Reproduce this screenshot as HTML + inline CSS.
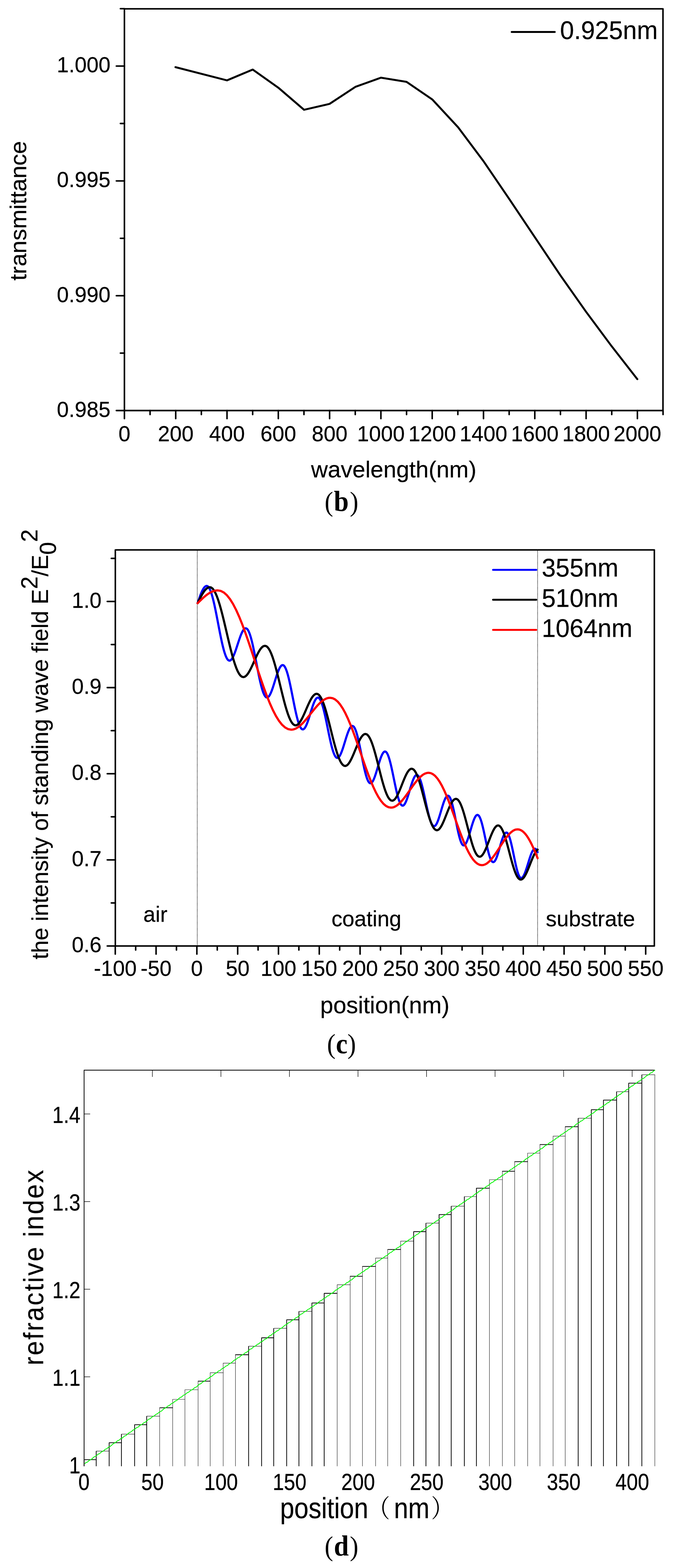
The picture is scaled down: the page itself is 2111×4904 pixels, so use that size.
<!DOCTYPE html>
<html lang="en">
<head>
<meta charset="utf-8">
<title>Figure: transmittance, standing wave field and refractive index</title>
<style>
html,body{margin:0;padding:0;background:#fff;}
body{width:2111px;height:4904px;}
svg{display:block;}
svg text{font-family:"Liberation Sans","Noto Sans CJK SC",sans-serif;fill:#000;stroke:#000;stroke-width:0.35px;stroke-linejoin:round;}
svg text.cap{font-family:"Liberation Serif","Noto Serif CJK SC",serif;font-weight:bold;stroke:none;}
svg text.cap .par{font-weight:normal;}
svg text.bd{stroke:#000;stroke-width:0.5px;stroke-linejoin:round;}
svg .cjk{font-family:"Noto Serif CJK SC","Noto Sans CJK SC",serif;stroke:none;}
</style>
</head>
<body>
<svg width="2111" height="4904" viewBox="0 0 2111 4904">
<rect width="2111" height="4904" fill="#fff"/>
<g id="chart-b">
<rect x="389.1" y="27.6" width="1684.3" height="1256.4" fill="none" stroke="#000" stroke-width="4.8" stroke-linejoin="round"/>
<line x1="389.1" y1="1284" x2="389.1" y2="1309.3" stroke="#000" stroke-width="4.8" stroke-linecap="round" />
<line x1="469.32" y1="1284" x2="469.32" y2="1296.6" stroke="#000" stroke-width="4.8" stroke-linecap="round" />
<line x1="549.53" y1="1284" x2="549.53" y2="1309.3" stroke="#000" stroke-width="4.8" stroke-linecap="round" />
<line x1="629.75" y1="1284" x2="629.75" y2="1296.6" stroke="#000" stroke-width="4.8" stroke-linecap="round" />
<line x1="709.96" y1="1284" x2="709.96" y2="1309.3" stroke="#000" stroke-width="4.8" stroke-linecap="round" />
<line x1="790.17" y1="1284" x2="790.17" y2="1296.6" stroke="#000" stroke-width="4.8" stroke-linecap="round" />
<line x1="870.39" y1="1284" x2="870.39" y2="1309.3" stroke="#000" stroke-width="4.8" stroke-linecap="round" />
<line x1="950.61" y1="1284" x2="950.61" y2="1296.6" stroke="#000" stroke-width="4.8" stroke-linecap="round" />
<line x1="1030.82" y1="1284" x2="1030.82" y2="1309.3" stroke="#000" stroke-width="4.8" stroke-linecap="round" />
<line x1="1111.04" y1="1284" x2="1111.04" y2="1296.6" stroke="#000" stroke-width="4.8" stroke-linecap="round" />
<line x1="1191.25" y1="1284" x2="1191.25" y2="1309.3" stroke="#000" stroke-width="4.8" stroke-linecap="round" />
<line x1="1271.47" y1="1284" x2="1271.47" y2="1296.6" stroke="#000" stroke-width="4.8" stroke-linecap="round" />
<line x1="1351.68" y1="1284" x2="1351.68" y2="1309.3" stroke="#000" stroke-width="4.8" stroke-linecap="round" />
<line x1="1431.89" y1="1284" x2="1431.89" y2="1296.6" stroke="#000" stroke-width="4.8" stroke-linecap="round" />
<line x1="1512.11" y1="1284" x2="1512.11" y2="1309.3" stroke="#000" stroke-width="4.8" stroke-linecap="round" />
<line x1="1592.33" y1="1284" x2="1592.33" y2="1296.6" stroke="#000" stroke-width="4.8" stroke-linecap="round" />
<line x1="1672.54" y1="1284" x2="1672.54" y2="1309.3" stroke="#000" stroke-width="4.8" stroke-linecap="round" />
<line x1="1752.76" y1="1284" x2="1752.76" y2="1296.6" stroke="#000" stroke-width="4.8" stroke-linecap="round" />
<line x1="1832.97" y1="1284" x2="1832.97" y2="1309.3" stroke="#000" stroke-width="4.8" stroke-linecap="round" />
<line x1="1913.18" y1="1284" x2="1913.18" y2="1296.6" stroke="#000" stroke-width="4.8" stroke-linecap="round" />
<line x1="1993.4" y1="1284" x2="1993.4" y2="1309.3" stroke="#000" stroke-width="4.8" stroke-linecap="round" />
<line x1="2073.62" y1="1284" x2="2073.62" y2="1296.6" stroke="#000" stroke-width="4.8" stroke-linecap="round" />
<line x1="389.1" y1="1284" x2="363.8" y2="1284" stroke="#000" stroke-width="4.8" stroke-linecap="round" />
<line x1="389.1" y1="1104.45" x2="376.5" y2="1104.45" stroke="#000" stroke-width="4.8" stroke-linecap="round" />
<line x1="389.1" y1="924.9" x2="363.8" y2="924.9" stroke="#000" stroke-width="4.8" stroke-linecap="round" />
<line x1="389.1" y1="745.35" x2="376.5" y2="745.35" stroke="#000" stroke-width="4.8" stroke-linecap="round" />
<line x1="389.1" y1="565.8" x2="363.8" y2="565.8" stroke="#000" stroke-width="4.8" stroke-linecap="round" />
<line x1="389.1" y1="386.25" x2="376.5" y2="386.25" stroke="#000" stroke-width="4.8" stroke-linecap="round" />
<line x1="389.1" y1="206.7" x2="363.8" y2="206.7" stroke="#000" stroke-width="4.8" stroke-linecap="round" />
<line x1="389.1" y1="27.15" x2="376.5" y2="27.15" stroke="#000" stroke-width="4.8" stroke-linecap="round" />
<text x="0" y="0" font-size="67" text-anchor="middle" transform="translate(389.1 1379.5) scale(1 1.015)" >0</text>
<text x="0" y="0" font-size="67" text-anchor="middle" transform="translate(549.53 1379.5) scale(1 1.015)" >200</text>
<text x="0" y="0" font-size="67" text-anchor="middle" transform="translate(709.96 1379.5) scale(1 1.015)" >400</text>
<text x="0" y="0" font-size="67" text-anchor="middle" transform="translate(870.39 1379.5) scale(1 1.015)" >600</text>
<text x="0" y="0" font-size="67" text-anchor="middle" transform="translate(1030.82 1379.5) scale(1 1.015)" >800</text>
<text x="0" y="0" font-size="67" text-anchor="middle" transform="translate(1191.25 1379.5) scale(1 1.015)" >1000</text>
<text x="0" y="0" font-size="67" text-anchor="middle" transform="translate(1351.68 1379.5) scale(1 1.015)" >1200</text>
<text x="0" y="0" font-size="67" text-anchor="middle" transform="translate(1512.11 1379.5) scale(1 1.015)" >1400</text>
<text x="0" y="0" font-size="67" text-anchor="middle" transform="translate(1672.54 1379.5) scale(1 1.015)" >1600</text>
<text x="0" y="0" font-size="67" text-anchor="middle" transform="translate(1832.97 1379.5) scale(1 1.015)" >1800</text>
<text x="0" y="0" font-size="67" text-anchor="middle" transform="translate(1993.4 1379.5) scale(1 1.015)" >2000</text>
<text x="0" y="0" font-size="67" text-anchor="end" transform="translate(345.5 1303.6) scale(1 1.015)" >0.985</text>
<text x="0" y="0" font-size="67" text-anchor="end" transform="translate(345.5 944.5) scale(1 1.015)" >0.990</text>
<text x="0" y="0" font-size="67" text-anchor="end" transform="translate(345.5 585.4) scale(1 1.015)" >0.995</text>
<text x="0" y="0" font-size="67" text-anchor="end" transform="translate(345.5 226.3) scale(1 1.015)" >1.000</text>
<text x="1231.3" y="1492.8" font-size="72.7" text-anchor="middle" >wavelength(nm)</text>
<text x="0" y="0" font-size="72.7" text-anchor="middle" transform="translate(82.3 659.3) rotate(-90)" >transmittance</text>
<line x1="1600.3" y1="99.9" x2="1734.9" y2="99.9" stroke="#000" stroke-width="6" stroke-linecap="round" />
<text x="0" y="0" font-size="78.5" text-anchor="start" transform="translate(1751.6 121.7) scale(1 1.01)" >0.925nm</text>
<path d="M548.7 210 L709.9 251.4 L790.3 217.6 L870.6 274.4 L950.9 343.4 L1030.7 324.9 L1111.4 271.7 L1191.6 242.9 L1271.4 256 L1351.8 310.9 L1432.7 398.1 L1512.1 504.1 L1592.2 621.7 L1672.4 741.5 L1752.6 861.2 L1832.4 974.5 L1912.8 1082.7 L1993.2 1185.8" fill="none" stroke="#000" stroke-width="6.1" stroke-linejoin="round" stroke-linecap="round"/>
<text transform="translate(1000 1597.8) scale(0.93 1)" font-size="86.4" class="cap"><tspan class="par" x="16.44">(</tspan><tspan x="47.27" font-size="90">b</tspan><tspan class="par" x="100.96">)</tspan></text>
</g>
<g id="chart-c">
<line x1="616.9" y1="1719.9" x2="616.9" y2="2958.7" stroke="#000" stroke-width="2.1" stroke-dasharray="0.5 3.45" stroke-linecap="round"/>
<line x1="1681.3" y1="1719.9" x2="1681.3" y2="2958.7" stroke="#000" stroke-width="2.1" stroke-dasharray="0.5 3.45" stroke-linecap="round"/>
<path d="M618 1886.6 L620.38 1879.54 L622.75 1872.6 L625.12 1865.9 L627.5 1859.55 L629.88 1853.67 L632.25 1848.35 L634.62 1843.68 L637 1839.75 L639.38 1836.62 L641.75 1834.34 L644.12 1832.96 L646.5 1832.5 L649.46 1833.45 L652.42 1836.32 L655.39 1841.09 L658.35 1847.71 L661.31 1856.09 L664.27 1866.11 L667.24 1877.59 L670.2 1890.35 L673.16 1904.16 L676.12 1918.78 L679.09 1933.95 L682.05 1949.4 L685.01 1964.85 L687.97 1980.02 L690.94 1994.64 L693.9 2008.45 L696.86 2021.21 L699.82 2032.69 L702.79 2042.71 L705.75 2051.09 L708.71 2057.71 L711.67 2062.48 L714.64 2065.35 L717.6 2066.3 L719.73 2065.85 L721.85 2064.5 L723.98 2062.31 L726.1 2059.33 L728.23 2055.6 L730.35 2051.2 L732.48 2046.21 L734.6 2040.72 L736.73 2034.82 L738.85 2028.61 L740.98 2022.18 L743.1 2015.65 L745.23 2009.12 L747.35 2002.69 L749.48 1996.48 L751.6 1990.58 L753.73 1985.09 L755.85 1980.1 L757.98 1975.7 L760.1 1971.97 L762.23 1968.99 L764.35 1966.8 L766.48 1965.45 L768.6 1965 L771.37 1965.88 L774.13 1968.54 L776.9 1972.95 L779.67 1979.09 L782.43 1986.85 L785.2 1996.13 L787.97 2006.76 L790.73 2018.58 L793.5 2031.38 L796.27 2044.93 L799.03 2058.99 L801.8 2073.3 L804.57 2087.61 L807.33 2101.67 L810.1 2115.22 L812.87 2128.02 L815.63 2139.84 L818.4 2150.47 L821.17 2159.75 L823.93 2167.51 L826.7 2173.65 L829.47 2178.06 L832.23 2180.72 L835 2181.6 L837.04 2181.15 L839.08 2179.8 L841.12 2177.61 L843.17 2174.61 L845.21 2170.87 L847.25 2166.46 L849.29 2161.46 L851.33 2155.96 L853.38 2150.04 L855.42 2143.8 L857.46 2137.35 L859.5 2130.8 L861.54 2124.25 L863.58 2117.8 L865.62 2111.56 L867.67 2105.64 L869.71 2100.14 L871.75 2095.14 L873.79 2090.73 L875.83 2086.99 L877.88 2083.99 L879.92 2081.8 L881.96 2080.45 L884 2080 L886.62 2080.82 L889.24 2083.28 L891.86 2087.39 L894.48 2093.08 L897.1 2100.3 L899.73 2108.91 L902.35 2118.8 L904.97 2129.79 L907.59 2141.68 L910.21 2154.27 L912.83 2167.34 L915.45 2180.65 L918.07 2193.96 L920.69 2207.03 L923.31 2219.62 L925.93 2231.51 L928.55 2242.5 L931.18 2252.39 L933.8 2261 L936.42 2268.22 L939.04 2273.91 L941.66 2278.02 L944.28 2280.48 L946.9 2281.3 L948.87 2280.85 L950.84 2279.54 L952.81 2277.39 L954.78 2274.46 L956.75 2270.8 L958.72 2266.48 L960.7 2261.58 L962.67 2256.19 L964.64 2250.39 L966.61 2244.28 L968.58 2237.97 L970.55 2231.55 L972.52 2225.13 L974.49 2218.82 L976.46 2212.71 L978.43 2206.91 L980.4 2201.52 L982.38 2196.62 L984.35 2192.3 L986.32 2188.64 L988.29 2185.71 L990.26 2183.56 L992.23 2182.25 L994.2 2181.8 L996.73 2182.56 L999.26 2184.87 L1001.79 2188.71 L1004.32 2194.04 L1006.85 2200.8 L1009.38 2208.87 L1011.9 2218.13 L1014.43 2228.43 L1016.96 2239.57 L1019.49 2251.38 L1022.02 2263.63 L1024.55 2276.1 L1027.08 2288.57 L1029.61 2300.82 L1032.14 2312.63 L1034.67 2323.77 L1037.2 2334.07 L1039.73 2343.33 L1042.25 2351.4 L1044.78 2358.16 L1047.31 2363.49 L1049.84 2367.33 L1052.37 2369.64 L1054.9 2370.4 L1056.87 2369.95 L1058.84 2368.63 L1060.81 2366.47 L1062.78 2363.52 L1064.75 2359.85 L1066.73 2355.51 L1068.7 2350.58 L1070.67 2345.16 L1072.64 2339.34 L1074.61 2333.2 L1076.58 2326.85 L1078.55 2320.4 L1080.52 2313.95 L1082.49 2307.6 L1084.46 2301.46 L1086.43 2295.64 L1088.4 2290.22 L1090.38 2285.29 L1092.35 2280.95 L1094.32 2277.28 L1096.29 2274.33 L1098.26 2272.17 L1100.23 2270.85 L1102.2 2270.4 L1104.55 2271.13 L1106.89 2273.32 L1109.24 2276.98 L1111.58 2282.06 L1113.93 2288.48 L1116.27 2296.17 L1118.62 2304.98 L1120.97 2314.77 L1123.31 2325.37 L1125.66 2336.59 L1128 2348.24 L1130.35 2360.1 L1132.7 2371.96 L1135.04 2383.61 L1137.39 2394.83 L1139.73 2405.43 L1142.08 2415.22 L1144.42 2424.03 L1146.77 2431.72 L1149.12 2438.14 L1151.46 2443.22 L1153.81 2446.88 L1156.15 2449.07 L1158.5 2449.8 L1160.4 2449.36 L1162.3 2448.04 L1164.2 2445.9 L1166.1 2442.97 L1168 2439.31 L1169.9 2435 L1171.8 2430.11 L1173.7 2424.72 L1175.6 2418.93 L1177.5 2412.82 L1179.4 2406.51 L1181.3 2400.1 L1183.2 2393.69 L1185.1 2387.38 L1187 2381.27 L1188.9 2375.48 L1190.8 2370.09 L1192.7 2365.2 L1194.6 2360.89 L1196.5 2357.23 L1198.4 2354.3 L1200.3 2352.16 L1202.2 2350.84 L1204.1 2350.4 L1206.4 2351.09 L1208.69 2353.16 L1210.99 2356.6 L1213.28 2361.39 L1215.58 2367.46 L1217.88 2374.71 L1220.17 2383.03 L1222.47 2392.27 L1224.76 2402.29 L1227.06 2412.89 L1229.35 2423.89 L1231.65 2435.1 L1233.95 2446.31 L1236.24 2457.31 L1238.54 2467.91 L1240.83 2477.93 L1243.13 2487.17 L1245.43 2495.49 L1247.72 2502.74 L1250.02 2508.81 L1252.31 2513.6 L1254.61 2517.04 L1256.9 2519.11 L1259.2 2519.8 L1261.04 2519.37 L1262.88 2518.1 L1264.73 2516.03 L1266.57 2513.19 L1268.41 2509.66 L1270.25 2505.49 L1272.09 2500.76 L1273.93 2495.55 L1275.78 2489.95 L1277.62 2484.05 L1279.46 2477.95 L1281.3 2471.75 L1283.14 2465.55 L1284.98 2459.45 L1286.83 2453.55 L1288.67 2447.95 L1290.51 2442.74 L1292.35 2438.01 L1294.19 2433.84 L1296.03 2430.31 L1297.88 2427.47 L1299.72 2425.4 L1301.56 2424.13 L1303.4 2423.7 L1305.66 2424.35 L1307.93 2426.3 L1310.19 2429.55 L1312.45 2434.08 L1314.71 2439.81 L1316.98 2446.66 L1319.24 2454.53 L1321.5 2463.27 L1323.76 2472.75 L1326.03 2482.78 L1328.29 2493.19 L1330.55 2503.8 L1332.81 2514.41 L1335.08 2524.82 L1337.34 2534.85 L1339.6 2544.33 L1341.86 2553.07 L1344.13 2560.94 L1346.39 2567.79 L1348.65 2573.52 L1350.91 2578.05 L1353.18 2581.3 L1355.44 2583.25 L1357.7 2583.9 L1359.5 2583.47 L1361.31 2582.22 L1363.11 2580.16 L1364.92 2577.35 L1366.72 2573.85 L1368.52 2569.71 L1370.33 2565.02 L1372.13 2559.86 L1373.94 2554.3 L1375.74 2548.45 L1377.55 2542.4 L1379.35 2536.25 L1381.15 2530.1 L1382.96 2524.05 L1384.76 2518.2 L1386.57 2512.64 L1388.37 2507.48 L1390.17 2502.79 L1391.98 2498.65 L1393.78 2495.15 L1395.59 2492.34 L1397.39 2490.28 L1399.2 2489.03 L1401 2488.6 L1403.05 2489.23 L1405.09 2491.13 L1407.14 2494.3 L1409.18 2498.7 L1411.23 2504.27 L1413.28 2510.93 L1415.32 2518.57 L1417.37 2527.05 L1419.41 2536.24 L1421.46 2545.97 L1423.5 2556.07 L1425.55 2566.35 L1427.6 2576.63 L1429.64 2586.73 L1431.69 2596.46 L1433.73 2605.65 L1435.78 2614.13 L1437.82 2621.77 L1439.87 2628.43 L1441.92 2634 L1443.96 2638.4 L1446.01 2641.57 L1448.05 2643.47 L1450.1 2644.1 L1451.9 2643.67 L1453.69 2642.41 L1455.49 2640.35 L1457.28 2637.54 L1459.08 2634.03 L1460.88 2629.89 L1462.67 2625.18 L1464.47 2620.01 L1466.26 2614.44 L1468.06 2608.58 L1469.85 2602.51 L1471.65 2596.35 L1473.45 2590.19 L1475.24 2584.12 L1477.04 2578.26 L1478.83 2572.69 L1480.63 2567.52 L1482.43 2562.81 L1484.22 2558.67 L1486.02 2555.16 L1487.81 2552.35 L1489.61 2550.29 L1491.4 2549.03 L1493.2 2548.6 L1495.25 2549.2 L1497.31 2551 L1499.36 2554 L1501.42 2558.18 L1503.47 2563.47 L1505.52 2569.79 L1507.58 2577.05 L1509.63 2585.12 L1511.69 2593.86 L1513.74 2603.11 L1515.8 2612.72 L1517.85 2622.5 L1519.9 2632.28 L1521.96 2641.89 L1524.01 2651.14 L1526.07 2659.88 L1528.12 2667.95 L1530.17 2675.21 L1532.23 2681.53 L1534.28 2686.82 L1536.34 2691 L1538.39 2694 L1540.45 2695.8 L1542.5 2696.4 L1544.21 2695.99 L1545.92 2694.76 L1547.64 2692.77 L1549.35 2690.04 L1551.06 2686.64 L1552.78 2682.62 L1554.49 2678.06 L1556.2 2673.04 L1557.91 2667.64 L1559.62 2661.96 L1561.34 2656.08 L1563.05 2650.1 L1564.76 2644.12 L1566.47 2638.24 L1568.19 2632.56 L1569.9 2627.16 L1571.61 2622.14 L1573.32 2617.58 L1575.04 2613.56 L1576.75 2610.16 L1578.46 2607.43 L1580.17 2605.44 L1581.89 2604.21 L1583.6 2603.8 L1585.53 2604.38 L1587.46 2606.11 L1589.39 2609.01 L1591.32 2613.03 L1593.25 2618.13 L1595.17 2624.22 L1597.1 2631.21 L1599.03 2638.97 L1600.96 2647.39 L1602.89 2656.29 L1604.82 2665.54 L1606.75 2674.95 L1608.68 2684.36 L1610.61 2693.61 L1612.54 2702.51 L1614.47 2710.93 L1616.4 2718.69 L1618.33 2725.68 L1620.25 2731.77 L1622.18 2736.87 L1624.11 2740.89 L1626.04 2743.79 L1627.97 2745.52 L1629.9 2746.1 L1631.7 2745.69 L1633.51 2744.48 L1635.31 2742.5 L1637.12 2739.8 L1638.92 2736.43 L1640.73 2732.46 L1642.53 2727.95 L1644.33 2722.98 L1646.14 2717.65 L1647.94 2712.02 L1649.75 2706.21 L1651.55 2700.3 L1653.35 2694.39 L1655.16 2688.58 L1656.96 2682.95 L1658.77 2677.62 L1660.57 2672.65 L1662.38 2668.14 L1664.18 2664.17 L1665.98 2660.8 L1667.79 2658.1 L1669.59 2656.12 L1671.4 2654.91 L1673.2 2654.5 L1674.29 2654.7 L1675.39 2655.29 L1676.48 2656.29 L1677.58 2657.68 L1678.67 2659.46 L1679.77 2661.64 L1680.87 2664.18 L1681.3 2665.34" fill="none" stroke="#0000ff" stroke-width="6.8" stroke-linejoin="round" stroke-linecap="round"/>
<path d="M618 1886.6 L621.19 1880.06 L624.38 1873.63 L627.58 1867.43 L630.77 1861.55 L633.96 1856.1 L637.15 1851.17 L640.34 1846.85 L643.53 1843.21 L646.72 1840.31 L649.92 1838.21 L653.11 1836.93 L656.3 1836.5 L660.66 1837.63 L665.02 1841.03 L669.37 1846.72 L673.73 1854.63 L678.09 1864.67 L682.45 1876.69 L686.81 1890.49 L691.17 1905.85 L695.52 1922.5 L699.88 1940.14 L704.24 1958.45 L708.6 1977.1 L712.96 1995.75 L717.32 2014.06 L721.67 2031.7 L726.03 2048.35 L730.39 2063.71 L734.75 2077.51 L739.11 2089.53 L743.47 2099.57 L747.82 2107.48 L752.18 2113.17 L756.54 2116.57 L760.9 2117.7 L763.72 2117.26 L766.53 2115.95 L769.35 2113.82 L772.17 2110.91 L774.98 2107.3 L777.8 2103.04 L780.62 2098.22 L783.43 2092.92 L786.25 2087.23 L789.07 2081.24 L791.88 2075.04 L794.7 2068.75 L797.52 2062.46 L800.33 2056.26 L803.15 2050.27 L805.97 2044.58 L808.78 2039.28 L811.6 2034.46 L814.42 2030.2 L817.23 2026.59 L820.05 2023.68 L822.87 2021.55 L825.68 2020.24 L828.5 2019.8 L832.5 2020.79 L836.49 2023.8 L840.49 2028.82 L844.48 2035.81 L848.48 2044.69 L852.48 2055.31 L856.47 2067.53 L860.47 2081.12 L864.46 2095.86 L868.46 2111.47 L872.45 2127.68 L876.45 2144.2 L880.45 2160.72 L884.44 2176.93 L888.44 2192.54 L892.43 2207.28 L896.43 2220.87 L900.43 2233.09 L904.42 2243.71 L908.42 2252.59 L912.41 2259.58 L916.41 2264.6 L920.4 2267.61 L924.4 2268.6 L927.14 2268.15 L929.88 2266.84 L932.62 2264.69 L935.37 2261.76 L938.11 2258.12 L940.85 2253.83 L943.59 2248.97 L946.33 2243.63 L949.07 2237.89 L951.82 2231.84 L954.56 2225.6 L957.3 2219.25 L960.04 2212.9 L962.78 2206.66 L965.52 2200.61 L968.27 2194.87 L971.01 2189.53 L973.75 2184.67 L976.49 2180.38 L979.23 2176.74 L981.98 2173.81 L984.72 2171.66 L987.46 2170.35 L990.2 2169.9 L993.91 2170.8 L997.62 2173.52 L1001.34 2178.07 L1005.05 2184.4 L1008.76 2192.45 L1012.48 2202.09 L1016.19 2213.17 L1019.9 2225.5 L1023.61 2238.87 L1027.33 2253.04 L1031.04 2267.76 L1034.75 2282.75 L1038.46 2297.74 L1042.17 2312.46 L1045.89 2326.63 L1049.6 2340 L1053.31 2352.33 L1057.03 2363.41 L1060.74 2373.05 L1064.45 2381.1 L1068.16 2387.43 L1071.88 2391.98 L1075.59 2394.7 L1079.3 2395.6 L1081.95 2395.15 L1084.59 2393.81 L1087.24 2391.64 L1089.88 2388.67 L1092.53 2384.98 L1095.17 2380.63 L1097.82 2375.71 L1100.47 2370.28 L1103.11 2364.46 L1105.76 2358.33 L1108.4 2351.99 L1111.05 2345.55 L1113.7 2339.11 L1116.34 2332.77 L1118.99 2326.64 L1121.63 2320.82 L1124.28 2315.39 L1126.92 2310.47 L1129.57 2306.12 L1132.22 2302.43 L1134.86 2299.46 L1137.51 2297.29 L1140.15 2295.95 L1142.8 2295.5 L1146.29 2296.33 L1149.78 2298.85 L1153.26 2303.05 L1156.75 2308.91 L1160.24 2316.35 L1163.73 2325.26 L1167.21 2335.51 L1170.7 2346.92 L1174.19 2359.29 L1177.68 2372.41 L1181.16 2386.03 L1184.65 2399.9 L1188.14 2413.77 L1191.62 2427.39 L1195.11 2440.51 L1198.6 2452.88 L1202.09 2464.29 L1205.58 2474.54 L1209.06 2483.45 L1212.55 2490.89 L1216.04 2496.75 L1219.53 2500.95 L1223.01 2503.47 L1226.5 2504.3 L1229.04 2503.85 L1231.58 2502.52 L1234.11 2500.34 L1236.65 2497.38 L1239.19 2493.69 L1241.72 2489.34 L1244.26 2484.41 L1246.8 2478.99 L1249.34 2473.17 L1251.88 2467.03 L1254.41 2460.69 L1256.95 2454.25 L1259.49 2447.81 L1262.03 2441.47 L1264.56 2435.33 L1267.1 2429.51 L1269.64 2424.09 L1272.18 2419.16 L1274.71 2414.81 L1277.25 2411.12 L1279.79 2408.16 L1282.33 2405.98 L1284.86 2404.65 L1287.4 2404.2 L1290.69 2404.96 L1293.97 2407.28 L1297.26 2411.14 L1300.55 2416.54 L1303.84 2423.39 L1307.12 2431.6 L1310.41 2441.04 L1313.7 2451.56 L1316.99 2462.96 L1320.27 2475.05 L1323.56 2487.61 L1326.85 2500.4 L1330.14 2513.19 L1333.42 2525.75 L1336.71 2537.84 L1340 2549.24 L1343.29 2559.76 L1346.57 2569.2 L1349.86 2577.41 L1353.15 2584.26 L1356.44 2589.66 L1359.72 2593.52 L1363.01 2595.84 L1366.3 2596.6 L1368.78 2596.16 L1371.26 2594.85 L1373.74 2592.72 L1376.22 2589.81 L1378.7 2586.19 L1381.17 2581.93 L1383.65 2577.09 L1386.13 2571.77 L1388.61 2566.06 L1391.09 2560.04 L1393.57 2553.82 L1396.05 2547.5 L1398.53 2541.18 L1401.01 2534.96 L1403.49 2528.94 L1405.97 2523.23 L1408.45 2517.91 L1410.92 2513.07 L1413.4 2508.81 L1415.88 2505.19 L1418.36 2502.28 L1420.84 2500.15 L1423.32 2498.84 L1425.8 2498.4 L1428.9 2499.12 L1431.99 2501.3 L1435.09 2504.94 L1438.18 2510.01 L1441.28 2516.46 L1444.37 2524.19 L1447.47 2533.08 L1450.57 2542.98 L1453.66 2553.71 L1456.76 2565.09 L1459.85 2576.91 L1462.95 2588.95 L1466.05 2600.99 L1469.14 2612.81 L1472.24 2624.19 L1475.33 2634.92 L1478.43 2644.82 L1481.52 2653.71 L1484.62 2661.44 L1487.72 2667.89 L1490.81 2672.96 L1493.91 2676.6 L1497 2678.78 L1500.1 2679.5 L1502.5 2679.06 L1504.9 2677.76 L1507.3 2675.63 L1509.7 2672.74 L1512.1 2669.13 L1514.5 2664.88 L1516.9 2660.06 L1519.3 2654.75 L1521.7 2649.06 L1524.1 2643.06 L1526.5 2636.85 L1528.9 2630.55 L1531.3 2624.25 L1533.7 2618.04 L1536.1 2612.04 L1538.5 2606.35 L1540.9 2601.04 L1543.3 2596.22 L1545.7 2591.97 L1548.1 2588.36 L1550.5 2585.47 L1552.9 2583.34 L1555.3 2582.04 L1557.7 2581.6 L1560.65 2582.27 L1563.6 2584.3 L1566.55 2587.7 L1569.5 2592.45 L1572.45 2598.48 L1575.4 2605.71 L1578.35 2614.02 L1581.3 2623.28 L1584.25 2633.32 L1587.2 2643.97 L1590.15 2655.03 L1593.1 2666.3 L1596.05 2677.57 L1599 2688.63 L1601.95 2699.28 L1604.9 2709.32 L1607.85 2718.58 L1610.8 2726.89 L1613.75 2734.12 L1616.7 2740.15 L1619.65 2744.9 L1622.6 2748.3 L1625.55 2750.33 L1628.5 2751 L1629.96 2750.84 L1631.42 2750.38 L1632.89 2749.61 L1634.35 2748.55 L1635.81 2747.2 L1637.28 2745.59 L1638.74 2743.71 L1640.2 2741.59 L1641.66 2739.23 L1643.12 2736.65 L1644.59 2733.88 L1646.05 2730.92 L1647.51 2727.8 L1648.97 2724.53 L1650.44 2721.14 L1651.9 2717.64 L1653.36 2714.06 L1654.83 2710.41 L1656.29 2706.71 L1657.75 2703 L1659.21 2699.29 L1660.67 2695.59 L1662.14 2691.94 L1663.6 2688.36 L1665.06 2684.86 L1666.53 2681.47 L1667.99 2678.2 L1669.45 2675.08 L1670.91 2672.12 L1672.38 2669.35 L1673.84 2666.77 L1675.3 2664.41 L1676.76 2662.29 L1678.22 2660.41 L1679.69 2658.8 L1681.15 2657.45 L1681.3 2657.34" fill="none" stroke="#000000" stroke-width="6.8" stroke-linejoin="round" stroke-linecap="round"/>
<path d="M618 1886.6 L623.26 1881.37 L628.52 1876.22 L633.77 1871.25 L639.03 1866.55 L644.29 1862.19 L649.55 1858.25 L654.81 1854.79 L660.07 1851.87 L665.33 1849.55 L670.58 1847.87 L675.84 1846.84 L681.1 1846.5 L690.68 1848.17 L700.25 1853.26 L709.83 1861.84 L719.4 1873.87 L728.98 1889.23 L738.55 1907.74 L748.12 1929.1 L757.7 1952.96 L767.27 1978.9 L776.85 2006.45 L786.42 2035.1 L796 2064.3 L805.58 2093.5 L815.15 2122.15 L824.73 2149.7 L834.3 2175.64 L843.88 2199.5 L853.45 2220.86 L863.02 2239.37 L872.6 2254.73 L882.17 2266.76 L891.75 2275.34 L901.32 2280.43 L910.9 2282.1 L915.96 2281.64 L921.02 2280.28 L926.07 2278.08 L931.13 2275.09 L936.19 2271.38 L941.25 2267.03 L946.31 2262.11 L951.37 2256.72 L956.42 2250.93 L961.48 2244.85 L966.54 2238.58 L971.6 2232.2 L976.66 2225.82 L981.72 2219.55 L986.77 2213.47 L991.83 2207.68 L996.89 2202.29 L1001.95 2197.37 L1007.01 2193.02 L1012.07 2189.31 L1017.12 2186.32 L1022.18 2184.12 L1027.24 2182.76 L1032.3 2182.3 L1040.25 2183.6 L1048.19 2187.59 L1056.14 2194.31 L1064.08 2203.77 L1072.03 2215.86 L1079.98 2230.44 L1087.92 2247.28 L1095.87 2266.11 L1103.81 2286.6 L1111.76 2308.37 L1119.7 2331.01 L1127.65 2354.1 L1135.6 2377.19 L1143.54 2399.83 L1151.49 2421.6 L1159.43 2442.09 L1167.38 2460.92 L1175.33 2477.76 L1183.27 2492.34 L1191.22 2504.43 L1199.16 2513.89 L1207.11 2520.61 L1215.05 2524.6 L1223 2525.9 L1227.88 2525.4 L1232.77 2523.92 L1237.65 2521.52 L1242.53 2518.26 L1247.42 2514.22 L1252.3 2509.47 L1257.18 2504.1 L1262.07 2498.21 L1266.95 2491.89 L1271.83 2485.24 L1276.72 2478.37 L1281.6 2471.4 L1286.48 2464.43 L1291.37 2457.56 L1296.25 2450.91 L1301.13 2444.59 L1306.02 2438.7 L1310.9 2433.33 L1315.78 2428.58 L1320.67 2424.54 L1325.55 2421.28 L1330.43 2418.88 L1335.32 2417.4 L1340.2 2416.9 L1347.16 2417.99 L1354.12 2421.32 L1361.08 2426.94 L1368.03 2434.87 L1374.99 2445.01 L1381.95 2457.26 L1388.91 2471.42 L1395.87 2487.27 L1402.83 2504.52 L1409.78 2522.86 L1416.74 2541.94 L1423.7 2561.4 L1430.66 2580.86 L1437.62 2599.94 L1444.58 2618.28 L1451.53 2635.53 L1458.49 2651.38 L1465.45 2665.54 L1472.41 2677.79 L1479.37 2687.93 L1486.33 2695.86 L1493.28 2701.48 L1500.24 2704.81 L1507.2 2705.9 L1511.83 2705.38 L1516.47 2703.87 L1521.1 2701.41 L1525.73 2698.06 L1530.37 2693.91 L1535 2689.03 L1539.63 2683.5 L1544.27 2677.44 L1548.9 2670.94 L1553.53 2664.1 L1558.17 2657.03 L1562.8 2649.85 L1567.43 2642.67 L1572.07 2635.6 L1576.7 2628.76 L1581.33 2622.26 L1585.97 2616.2 L1590.6 2610.67 L1595.23 2605.79 L1599.87 2601.64 L1604.5 2598.29 L1609.13 2595.83 L1613.77 2594.32 L1618.4 2593.8 L1622.14 2594.12 L1625.88 2595.1 L1629.62 2596.75 L1633.36 2599.09 L1637.1 2602.12 L1640.84 2605.85 L1644.58 2610.26 L1648.32 2615.35 L1652.06 2621.08 L1655.8 2627.43 L1659.54 2634.36 L1663.28 2641.84 L1667.02 2649.82 L1670.76 2658.25 L1674.5 2667.07 L1678.24 2676.23 L1681.3 2683.94" fill="none" stroke="#ff0000" stroke-width="6.8" stroke-linejoin="round" stroke-linecap="round"/>
<rect x="360.7" y="1719.9" width="1685.7" height="1238.8" fill="none" stroke="#000" stroke-width="4.8" stroke-linejoin="round"/>
<line x1="360.5" y1="2958.7" x2="360.5" y2="2984" stroke="#000" stroke-width="4.8" stroke-linecap="round" />
<line x1="424.3" y1="2958.7" x2="424.3" y2="2971.3" stroke="#000" stroke-width="4.8" stroke-linecap="round" />
<line x1="488.1" y1="2958.7" x2="488.1" y2="2984" stroke="#000" stroke-width="4.8" stroke-linecap="round" />
<line x1="551.9" y1="2958.7" x2="551.9" y2="2971.3" stroke="#000" stroke-width="4.8" stroke-linecap="round" />
<line x1="615.7" y1="2958.7" x2="615.7" y2="2984" stroke="#000" stroke-width="4.8" stroke-linecap="round" />
<line x1="679.5" y1="2958.7" x2="679.5" y2="2971.3" stroke="#000" stroke-width="4.8" stroke-linecap="round" />
<line x1="743.3" y1="2958.7" x2="743.3" y2="2984" stroke="#000" stroke-width="4.8" stroke-linecap="round" />
<line x1="807.1" y1="2958.7" x2="807.1" y2="2971.3" stroke="#000" stroke-width="4.8" stroke-linecap="round" />
<line x1="870.9" y1="2958.7" x2="870.9" y2="2984" stroke="#000" stroke-width="4.8" stroke-linecap="round" />
<line x1="934.7" y1="2958.7" x2="934.7" y2="2971.3" stroke="#000" stroke-width="4.8" stroke-linecap="round" />
<line x1="998.5" y1="2958.7" x2="998.5" y2="2984" stroke="#000" stroke-width="4.8" stroke-linecap="round" />
<line x1="1062.3" y1="2958.7" x2="1062.3" y2="2971.3" stroke="#000" stroke-width="4.8" stroke-linecap="round" />
<line x1="1126.1" y1="2958.7" x2="1126.1" y2="2984" stroke="#000" stroke-width="4.8" stroke-linecap="round" />
<line x1="1189.9" y1="2958.7" x2="1189.9" y2="2971.3" stroke="#000" stroke-width="4.8" stroke-linecap="round" />
<line x1="1253.7" y1="2958.7" x2="1253.7" y2="2984" stroke="#000" stroke-width="4.8" stroke-linecap="round" />
<line x1="1317.5" y1="2958.7" x2="1317.5" y2="2971.3" stroke="#000" stroke-width="4.8" stroke-linecap="round" />
<line x1="1381.3" y1="2958.7" x2="1381.3" y2="2984" stroke="#000" stroke-width="4.8" stroke-linecap="round" />
<line x1="1445.1" y1="2958.7" x2="1445.1" y2="2971.3" stroke="#000" stroke-width="4.8" stroke-linecap="round" />
<line x1="1508.9" y1="2958.7" x2="1508.9" y2="2984" stroke="#000" stroke-width="4.8" stroke-linecap="round" />
<line x1="1572.7" y1="2958.7" x2="1572.7" y2="2971.3" stroke="#000" stroke-width="4.8" stroke-linecap="round" />
<line x1="1636.5" y1="2958.7" x2="1636.5" y2="2984" stroke="#000" stroke-width="4.8" stroke-linecap="round" />
<line x1="1700.3" y1="2958.7" x2="1700.3" y2="2971.3" stroke="#000" stroke-width="4.8" stroke-linecap="round" />
<line x1="1764.1" y1="2958.7" x2="1764.1" y2="2984" stroke="#000" stroke-width="4.8" stroke-linecap="round" />
<line x1="1827.9" y1="2958.7" x2="1827.9" y2="2971.3" stroke="#000" stroke-width="4.8" stroke-linecap="round" />
<line x1="1891.7" y1="2958.7" x2="1891.7" y2="2984" stroke="#000" stroke-width="4.8" stroke-linecap="round" />
<line x1="1955.5" y1="2958.7" x2="1955.5" y2="2971.3" stroke="#000" stroke-width="4.8" stroke-linecap="round" />
<line x1="2019.3" y1="2958.7" x2="2019.3" y2="2984" stroke="#000" stroke-width="4.8" stroke-linecap="round" />
<line x1="360.7" y1="2958.7" x2="335.4" y2="2958.7" stroke="#000" stroke-width="4.8" stroke-linecap="round" />
<line x1="360.7" y1="2824" x2="348.1" y2="2824" stroke="#000" stroke-width="4.8" stroke-linecap="round" />
<line x1="360.7" y1="2689.3" x2="335.4" y2="2689.3" stroke="#000" stroke-width="4.8" stroke-linecap="round" />
<line x1="360.7" y1="2554.6" x2="348.1" y2="2554.6" stroke="#000" stroke-width="4.8" stroke-linecap="round" />
<line x1="360.7" y1="2419.9" x2="335.4" y2="2419.9" stroke="#000" stroke-width="4.8" stroke-linecap="round" />
<line x1="360.7" y1="2285.2" x2="348.1" y2="2285.2" stroke="#000" stroke-width="4.8" stroke-linecap="round" />
<line x1="360.7" y1="2150.5" x2="335.4" y2="2150.5" stroke="#000" stroke-width="4.8" stroke-linecap="round" />
<line x1="360.7" y1="2015.8" x2="348.1" y2="2015.8" stroke="#000" stroke-width="4.8" stroke-linecap="round" />
<line x1="360.7" y1="1881.1" x2="335.4" y2="1881.1" stroke="#000" stroke-width="4.8" stroke-linecap="round" />
<line x1="360.7" y1="1746.4" x2="348.1" y2="1746.4" stroke="#000" stroke-width="4.8" stroke-linecap="round" />
<text x="0" y="0" font-size="67" text-anchor="middle" transform="translate(360.5 3052.2) scale(1 1.015)" >-100</text>
<text x="0" y="0" font-size="67" text-anchor="middle" transform="translate(488.1 3052.2) scale(1 1.015)" >-50</text>
<text x="0" y="0" font-size="67" text-anchor="middle" transform="translate(615.7 3052.2) scale(1 1.015)" >0</text>
<text x="0" y="0" font-size="67" text-anchor="middle" transform="translate(743.3 3052.2) scale(1 1.015)" >50</text>
<text x="0" y="0" font-size="67" text-anchor="middle" transform="translate(870.9 3052.2) scale(1 1.015)" >100</text>
<text x="0" y="0" font-size="67" text-anchor="middle" transform="translate(998.5 3052.2) scale(1 1.015)" >150</text>
<text x="0" y="0" font-size="67" text-anchor="middle" transform="translate(1126.1 3052.2) scale(1 1.015)" >200</text>
<text x="0" y="0" font-size="67" text-anchor="middle" transform="translate(1253.7 3052.2) scale(1 1.015)" >250</text>
<text x="0" y="0" font-size="67" text-anchor="middle" transform="translate(1381.3 3052.2) scale(1 1.015)" >300</text>
<text x="0" y="0" font-size="67" text-anchor="middle" transform="translate(1508.9 3052.2) scale(1 1.015)" >350</text>
<text x="0" y="0" font-size="67" text-anchor="middle" transform="translate(1636.5 3052.2) scale(1 1.015)" >400</text>
<text x="0" y="0" font-size="67" text-anchor="middle" transform="translate(1764.1 3052.2) scale(1 1.015)" >450</text>
<text x="0" y="0" font-size="67" text-anchor="middle" transform="translate(1891.7 3052.2) scale(1 1.015)" >500</text>
<text x="0" y="0" font-size="67" text-anchor="middle" transform="translate(2019.3 3052.2) scale(1 1.015)" >550</text>
<text x="0" y="0" font-size="67" text-anchor="end" transform="translate(317.6 2978.1) scale(1 1.015)" >0.6</text>
<text x="0" y="0" font-size="67" text-anchor="end" transform="translate(317.6 2708.7) scale(1 1.015)" >0.7</text>
<text x="0" y="0" font-size="67" text-anchor="end" transform="translate(317.6 2439.3) scale(1 1.015)" >0.8</text>
<text x="0" y="0" font-size="67" text-anchor="end" transform="translate(317.6 2169.9) scale(1 1.015)" >0.9</text>
<text x="0" y="0" font-size="67" text-anchor="end" transform="translate(317.6 1900.5) scale(1 1.015)" >1.0</text>
<text x="486" y="2882.8" font-size="67.8" text-anchor="middle" >air</text>
<text x="1146" y="2897.4" font-size="67.8" text-anchor="middle" >coating</text>
<text x="1846.5" y="2897.4" font-size="67.8" text-anchor="middle" >substrate</text>
<line x1="1542" y1="1782.2" x2="1677" y2="1782.2" stroke="#0000ff" stroke-width="6" stroke-linecap="round" />
<text x="0" y="0" font-size="78.5" text-anchor="start" transform="translate(1694.2 1802.8) scale(1 1.01)" >355nm</text>
<line x1="1542" y1="1875.8" x2="1677" y2="1875.8" stroke="#000" stroke-width="6" stroke-linecap="round" />
<text x="0" y="0" font-size="78.5" text-anchor="start" transform="translate(1694.2 1897.5) scale(1 1.01)" >510nm</text>
<line x1="1542" y1="1970" x2="1677" y2="1970" stroke="#ff0000" stroke-width="6" stroke-linecap="round" />
<text x="0" y="0" font-size="78.5" text-anchor="start" transform="translate(1694.2 1992.2) scale(1 1.01)" >1064nm</text>
<text x="1203.5" y="3169.3" font-size="73.5" text-anchor="middle" >position(nm)</text>
<text x="0" y="0" font-size="71.6" text-anchor="start" transform="translate(149.9 3000.6) rotate(-90)" >the intensity of standing wave field E<tspan dy="-33.3">2</tspan><tspan dy="33.3">/E</tspan><tspan dy="24.9">0</tspan><tspan dy="-58.2">2</tspan></text>
<text transform="translate(1000 3293.9) scale(0.93 1)" font-size="86.4" class="cap"><tspan class="par" x="24.39">(</tspan><tspan x="54.24" font-size="88">c</tspan><tspan class="par" x="93.11">)</tspan></text>
</g>
<g id="chart-d">
<path d="M499.4 4585.8V4402.8M540 4585.8V4376.5M578.4 4585.8V4346.5M619.5 4585.8V4319.7M657.4 4585.8V4293.3M698 4585.8V4263.4M736.4 4585.8V4237M1054.5 4585.8V4018.2M1095.1 4585.8V3991.6M1133.5 4585.8V3960.9M1174.6 4585.8V3934.6M1212.5 4585.8V3907.9M1253.1 4585.8V3881.6M1530.6 4585.8V3689.5M1571.2 4585.8V3663.1M1609.6 4585.8V3633.2M1650.2 4585.8V3606.5M1688.6 4585.8V3579.7M1729.7 4585.8V3553.4M1767.6 4585.8V3523.8M2047.9 4585.8V3361.3" fill="none" stroke="#000" stroke-width="1.15"/>
<path d="M263 4585.8V4565.1M300.9 4585.8V4538.4M341.4 4585.8V4512.1M379.8 4585.8V4485.4M421 4585.8V4455.8M458.8 4585.8V4429.1M777.5 4585.8V4210.3M818.1 4585.8V4184M856 4585.8V4154.4M896.5 4585.8V4127.7M934.9 4585.8V4101.4M975.5 4585.8V4075.1M1013.9 4585.8V4045M1293.7 4585.8V3852M1332.1 4585.8V3825.3M1373.2 4585.8V3798.6M1411.1 4585.8V3772.4M1452.2 4585.8V3742.5M1490 4585.8V3716.1M1808.2 4585.8V3497.3M1849.3 4585.8V3470.6M1887.2 4585.8V3440.7M1928.3 4585.8V3414.3M1966.2 4585.8V3387.6M2007.3 4585.8V3361.3" fill="none" stroke="#000" stroke-width="2.3"/>
<path d="M262.4 4565.1H301.5M340.8 4512.1H380.4M420.4 4455.8H459.4M498.8 4402.8H540.6M618.9 4319.7H658M735.8 4237H778.1M817.5 4184H856.6M895.9 4127.7H935.5M974.9 4075.1H1014.5M1013.3 4045H1055.1M1094.5 3991.6H1134.1M1132.9 3960.9H1175.2M1211.9 3907.9H1253.7M1293.1 3852H1332.7M1372.6 3798.6H1411.7M1489.4 3716.1H1531.2M1570.6 3663.1H1610.2M1609 3633.2H1650.8M1688 3579.7H1730.3M1767 3523.8H1808.8M1848.7 3470.6H1887.8M1886.6 3440.7H1928.9M1965.6 3387.6H2007.9" fill="none" stroke="#000" stroke-width="2.3"/>
<path d="M300.3 4538.4H342M379.2 4485.4H421.6M458.2 4429.1H500M539.4 4376.5H579M577.8 4346.5H620.1M656.8 4293.3H698.6M697.4 4263.4H737M776.9 4210.3H818.7M855.4 4154.4H897.1M934.3 4101.4H976.1M1053.9 4018.2H1095.7M1174 3934.6H1213.1M1252.5 3881.6H1294.3M1331.5 3825.3H1373.8M1410.5 3772.4H1452.8M1451.6 3742.5H1490.6M1530 3689.5H1571.8M1649.6 3606.5H1689.2M1729.1 3553.4H1768.2M1807.6 3497.3H1849.9M1927.7 3414.3H1966.8M2006.7 3361.3H2048.5" fill="none" stroke="#000" stroke-width="1.2"/>
<line x1="262" y1="3347" x2="2047.9" y2="3347" stroke="#000" stroke-width="2.6" stroke-linecap="butt" />
<line x1="263" y1="3347" x2="263" y2="4585.8" stroke="#000" stroke-width="2.4" stroke-linecap="butt" />
<line x1="476.55" y1="3347" x2="476.55" y2="3368" stroke="#000" stroke-width="1.6" stroke-linecap="butt" />
<line x1="690.9" y1="3347" x2="690.9" y2="3368" stroke="#000" stroke-width="1.6" stroke-linecap="butt" />
<line x1="905.25" y1="3347" x2="905.25" y2="3368" stroke="#000" stroke-width="1.6" stroke-linecap="butt" />
<line x1="1119.6" y1="3347" x2="1119.6" y2="3368" stroke="#000" stroke-width="1.6" stroke-linecap="butt" />
<line x1="1333.95" y1="3347" x2="1333.95" y2="3368" stroke="#000" stroke-width="1.6" stroke-linecap="butt" />
<line x1="1548.3" y1="3347" x2="1548.3" y2="3368" stroke="#000" stroke-width="1.6" stroke-linecap="butt" />
<line x1="1762.65" y1="3347" x2="1762.65" y2="3368" stroke="#000" stroke-width="1.6" stroke-linecap="butt" />
<line x1="1977" y1="3347" x2="1977" y2="3368" stroke="#000" stroke-width="1.6" stroke-linecap="butt" />
<line x1="263" y1="3484" x2="282" y2="3484" stroke="#000" stroke-width="1.6" stroke-linecap="butt" />
<line x1="263" y1="3758.05" x2="282" y2="3758.05" stroke="#000" stroke-width="1.6" stroke-linecap="butt" />
<line x1="263" y1="4032.1" x2="282" y2="4032.1" stroke="#000" stroke-width="1.6" stroke-linecap="butt" />
<line x1="263" y1="4306.15" x2="282" y2="4306.15" stroke="#000" stroke-width="1.6" stroke-linecap="butt" />
<path d="M265.5 4577.3 L269.27 4573.99 L273.05 4572.95 L276.82 4569.65 L280.59 4566.34 L284.37 4565.3 L288.14 4562 L291.91 4558.69 L295.68 4555.39 L299.46 4554.35 L303.23 4551.04 L307 4547.74 L310.78 4546.69 L314.55 4543.39 L318.32 4540.08 L322.1 4539.04 L325.87 4535.74 L329.64 4532.43 L333.41 4531.39 L337.19 4528.09 L340.96 4524.78 L344.73 4523.74 L348.51 4520.43 L352.28 4517.13 L356.05 4513.82 L359.82 4512.78 L363.6 4509.48 L367.37 4506.17 L371.14 4505.13 L374.92 4501.83 L378.69 4498.52 L382.46 4497.48 L386.24 4494.17 L390.01 4490.87 L393.78 4489.83 L397.56 4486.52 L401.33 4483.22 L405.1 4479.91 L408.87 4478.87 L412.65 4475.57 L416.42 4472.26 L420.19 4471.22 L423.97 4467.92 L427.74 4464.61 L431.51 4463.57 L435.28 4460.26 L439.06 4456.96 L442.83 4455.92 L446.6 4452.61 L450.38 4449.31 L454.15 4448.27 L457.92 4444.96 L461.7 4441.66 L465.47 4438.35 L469.24 4437.31 L473.01 4434 L476.79 4430.7 L480.56 4429.66 L484.33 4426.35 L488.11 4423.05 L491.88 4422.01 L495.65 4418.7 L499.43 4415.4 L503.2 4414.35 L506.97 4411.05 L510.75 4407.74 L514.52 4404.44 L518.29 4403.4 L522.06 4400.09 L525.84 4396.79 L529.61 4395.75 L533.38 4392.44 L537.16 4389.14 L540.93 4388.1 L544.7 4384.79 L548.48 4381.48 L552.25 4380.44 L556.02 4377.14 L559.79 4373.83 L563.57 4370.53 L567.34 4369.49 L571.11 4366.18 L574.89 4362.88 L578.66 4361.84 L582.43 4358.53 L586.2 4355.23 L589.98 4354.18 L593.75 4350.88 L597.52 4347.57 L601.3 4346.53 L605.07 4343.23 L608.84 4339.92 L612.62 4338.88 L616.39 4335.58 L620.16 4332.27 L623.93 4328.97 L627.71 4327.92 L631.48 4324.62 L635.25 4321.31 L639.03 4320.27 L642.8 4316.97 L646.57 4313.66 L650.35 4312.62 L654.12 4309.32 L657.89 4306.01 L661.66 4304.97 L665.44 4301.66 L669.21 4298.36 L672.98 4295.05 L676.76 4294.01 L680.53 4290.71 L684.3 4287.4 L688.08 4286.36 L691.85 4283.06 L695.62 4279.75 L699.39 4278.71 L703.17 4275.41 L706.94 4272.1 L710.71 4271.06 L714.49 4267.75 L718.26 4264.45 L722.03 4263.41 L725.81 4260.1 L729.58 4256.8 L733.35 4253.49 L737.12 4252.45 L740.9 4249.15 L744.67 4245.84 L748.44 4244.8 L752.22 4241.49 L755.99 4238.19 L759.76 4237.15 L763.54 4233.84 L767.31 4230.54 L771.08 4229.5 L774.86 4226.19 L778.63 4222.89 L782.4 4219.58 L786.17 4218.54 L789.95 4215.23 L793.72 4211.93 L797.49 4210.89 L801.27 4207.58 L805.04 4204.28 L808.81 4203.24 L812.59 4199.93 L816.36 4196.63 L820.13 4195.59 L823.9 4192.28 L827.68 4188.97 L831.45 4187.93 L835.22 4184.63 L839 4181.32 L842.77 4178.02 L846.54 4176.98 L850.32 4173.67 L854.09 4170.37 L857.86 4169.33 L861.63 4166.02 L865.41 4162.72 L869.18 4161.67 L872.95 4158.37 L876.73 4155.06 L880.5 4154.02 L884.27 4150.72 L888.05 4147.41 L891.82 4144.11 L895.59 4143.07 L899.36 4139.76 L903.14 4136.46 L906.91 4135.41 L910.68 4132.11 L914.46 4128.8 L918.23 4127.76 L922 4124.46 L925.77 4121.15 L929.55 4120.11 L933.32 4116.81 L937.09 4113.5 L940.87 4110.2 L944.64 4109.15 L948.41 4105.85 L952.19 4102.54 L955.96 4101.5 L959.73 4098.2 L963.5 4094.89 L967.28 4093.85 L971.05 4090.55 L974.82 4087.24 L978.6 4086.2 L982.37 4082.9 L986.14 4079.59 L989.92 4078.55 L993.69 4075.24 L997.46 4071.94 L1001.24 4068.63 L1005.01 4067.59 L1008.78 4064.29 L1012.55 4060.98 L1016.33 4059.94 L1020.1 4056.64 L1023.87 4053.33 L1027.65 4052.29 L1031.42 4048.98 L1035.19 4045.68 L1038.97 4044.64 L1042.74 4041.33 L1046.51 4038.03 L1050.28 4034.72 L1054.06 4033.68 L1057.83 4030.38 L1061.6 4027.07 L1065.38 4026.03 L1069.15 4022.72 L1072.92 4019.42 L1076.7 4018.38 L1080.47 4015.07 L1084.24 4011.77 L1088.01 4010.73 L1091.79 4007.42 L1095.56 4004.12 L1099.33 4003.07 L1103.11 3999.77 L1106.88 3996.46 L1110.65 3993.16 L1114.43 3992.12 L1118.2 3988.81 L1121.97 3985.51 L1125.74 3984.47 L1129.52 3981.16 L1133.29 3977.86 L1137.06 3976.82 L1140.84 3973.51 L1144.61 3970.21 L1148.38 3969.16 L1152.16 3965.86 L1155.93 3962.55 L1159.7 3959.25 L1163.47 3958.21 L1167.25 3954.9 L1171.02 3951.6 L1174.79 3950.56 L1178.57 3947.25 L1182.34 3943.95 L1186.11 3942.9 L1189.88 3939.6 L1193.66 3936.29 L1197.43 3935.25 L1201.2 3931.95 L1204.98 3928.64 L1208.75 3927.6 L1212.52 3924.3 L1216.3 3920.99 L1220.07 3917.69 L1223.84 3916.64 L1227.62 3913.34 L1231.39 3910.03 L1235.16 3908.99 L1238.93 3905.69 L1242.71 3902.38 L1246.48 3901.34 L1250.25 3898.04 L1254.03 3894.73 L1257.8 3893.69 L1261.57 3890.39 L1265.35 3887.08 L1269.12 3883.77 L1272.89 3882.73 L1276.66 3879.43 L1280.44 3876.12 L1284.21 3875.08 L1287.98 3871.78 L1291.76 3868.47 L1295.53 3867.43 L1299.3 3864.13 L1303.08 3860.82 L1306.85 3859.78 L1310.62 3856.47 L1314.39 3853.17 L1318.17 3849.86 L1321.94 3848.82 L1325.71 3845.52 L1329.49 3842.21 L1333.26 3841.17 L1337.03 3837.87 L1340.81 3834.56 L1344.58 3833.52 L1348.35 3830.21 L1352.12 3826.91 L1355.9 3825.87 L1359.67 3822.56 L1363.44 3819.26 L1367.22 3818.22 L1370.99 3814.91 L1374.76 3811.61 L1378.54 3808.3 L1382.31 3807.26 L1386.08 3803.95 L1389.85 3800.65 L1393.63 3799.61 L1397.4 3796.3 L1401.17 3793 L1404.95 3791.96 L1408.72 3788.65 L1412.49 3785.35 L1416.27 3784.31 L1420.04 3781 L1423.81 3777.7 L1427.58 3774.39 L1431.36 3773.35 L1435.13 3770.04 L1438.9 3766.74 L1442.68 3765.7 L1446.45 3762.39 L1450.22 3759.09 L1454 3758.05 L1457.77 3754.74 L1461.54 3751.44 L1465.31 3750.39 L1469.09 3747.09 L1472.86 3743.78 L1476.63 3742.74 L1480.41 3739.44 L1484.18 3736.13 L1487.95 3732.83 L1491.73 3731.79 L1495.5 3728.48 L1499.27 3725.18 L1503.04 3724.13 L1506.82 3720.83 L1510.59 3717.52 L1514.36 3716.48 L1518.14 3713.18 L1521.91 3709.87 L1525.68 3708.83 L1529.46 3705.53 L1533.23 3702.22 L1537 3698.92 L1540.77 3697.88 L1544.55 3694.57 L1548.32 3691.26 L1552.09 3690.22 L1555.87 3686.92 L1559.64 3683.61 L1563.41 3682.57 L1567.18 3679.27 L1570.96 3675.96 L1574.73 3674.92 L1578.5 3671.62 L1582.28 3668.31 L1586.05 3667.27 L1589.82 3663.96 L1593.6 3660.66 L1597.37 3657.35 L1601.14 3656.31 L1604.91 3653.01 L1608.69 3649.7 L1612.46 3648.66 L1616.23 3645.36 L1620.01 3642.05 L1623.78 3641.01 L1627.55 3637.7 L1631.33 3634.4 L1635.1 3633.36 L1638.87 3630.05 L1642.64 3626.75 L1646.42 3623.44 L1650.19 3622.4 L1653.96 3619.1 L1657.74 3615.79 L1661.51 3614.75 L1665.28 3611.44 L1669.06 3608.14 L1672.83 3607.1 L1676.6 3603.79 L1680.38 3600.49 L1684.15 3599.45 L1687.92 3596.14 L1691.69 3592.84 L1695.47 3591.8 L1699.24 3588.49 L1703.01 3585.19 L1706.79 3581.88 L1710.56 3580.84 L1714.33 3577.53 L1718.11 3574.23 L1721.88 3573.19 L1725.65 3569.88 L1729.42 3566.58 L1733.2 3565.54 L1736.97 3562.23 L1740.74 3558.93 L1744.52 3557.88 L1748.29 3554.58 L1752.06 3551.27 L1755.84 3547.97 L1759.61 3546.93 L1763.38 3543.62 L1767.15 3540.32 L1770.93 3539.28 L1774.7 3535.97 L1778.47 3532.67 L1782.25 3531.62 L1786.02 3528.32 L1789.79 3525.01 L1793.57 3523.97 L1797.34 3520.67 L1801.11 3517.36 L1804.88 3514.06 L1808.66 3513.02 L1812.43 3509.71 L1816.2 3506.41 L1819.98 3505.36 L1823.75 3502.06 L1827.52 3498.75 L1831.3 3497.71 L1835.07 3494.41 L1838.84 3491.1 L1842.61 3490.06 L1846.39 3486.76 L1850.16 3483.45 L1853.93 3482.41 L1857.71 3479.11 L1861.48 3475.8 L1865.25 3472.5 L1869.03 3471.45 L1872.8 3468.15 L1876.57 3464.84 L1880.34 3463.8 L1884.12 3460.5 L1887.89 3457.19 L1891.66 3456.15 L1895.44 3452.85 L1899.21 3449.54 L1902.98 3448.5 L1906.76 3445.19 L1910.53 3441.89 L1914.3 3438.58 L1918.07 3437.54 L1921.85 3434.24 L1925.62 3430.93 L1929.39 3429.89 L1933.17 3426.59 L1936.94 3423.28 L1940.71 3422.24 L1944.49 3418.93 L1948.26 3415.63 L1952.03 3414.59 L1955.8 3411.28 L1959.58 3407.98 L1963.35 3406.94 L1967.12 3403.63 L1970.9 3400.33 L1974.67 3397.02 L1978.44 3395.98 L1982.22 3392.68 L1985.99 3389.37 L1989.76 3388.33 L1993.53 3385.02 L1997.31 3381.72 L2001.08 3380.68 L2004.85 3377.37 L2008.63 3374.07 L2012.4 3373.03 L2016.17 3369.72 L2019.95 3366.42 L2023.72 3363.11 L2027.49 3362.07 L2031.26 3358.76 L2035.04 3355.46 L2038.81 3354.42 L2042.58 3351.11 L2046.36 3347.81 L2047.9 3347.5" fill="none" stroke="#00f600" stroke-width="2.4" stroke-linecap="round" stroke-linejoin="round"/>
<text x="0" y="0" font-size="71" text-anchor="middle" transform="translate(262.6 4659.8) scale(0.89 1.02)" class="bd">0</text>
<text x="0" y="0" font-size="71" text-anchor="middle" transform="translate(476.95 4659.8) scale(0.89 1.02)" class="bd">50</text>
<text x="0" y="0" font-size="71" text-anchor="middle" transform="translate(691.3 4659.8) scale(0.89 1.02)" class="bd">100</text>
<text x="0" y="0" font-size="71" text-anchor="middle" transform="translate(905.65 4659.8) scale(0.89 1.02)" class="bd">150</text>
<text x="0" y="0" font-size="71" text-anchor="middle" transform="translate(1120 4659.8) scale(0.89 1.02)" class="bd">200</text>
<text x="0" y="0" font-size="71" text-anchor="middle" transform="translate(1334.35 4659.8) scale(0.89 1.02)" class="bd">250</text>
<text x="0" y="0" font-size="71" text-anchor="middle" transform="translate(1548.7 4659.8) scale(0.89 1.02)" class="bd">300</text>
<text x="0" y="0" font-size="71" text-anchor="middle" transform="translate(1763.05 4659.8) scale(0.89 1.02)" class="bd">350</text>
<text x="0" y="0" font-size="71" text-anchor="middle" transform="translate(1977.4 4659.8) scale(0.89 1.02)" class="bd">400</text>
<text x="0" y="0" font-size="71" text-anchor="end" transform="translate(251.5 3511.6) scale(0.89 1.02)" class="bd">1.4</text>
<text x="0" y="0" font-size="71" text-anchor="end" transform="translate(251.5 3785.65) scale(0.89 1.02)" class="bd">1.3</text>
<text x="0" y="0" font-size="71" text-anchor="end" transform="translate(251.5 4059.7) scale(0.89 1.02)" class="bd">1.2</text>
<text x="0" y="0" font-size="71" text-anchor="end" transform="translate(251.5 4333.75) scale(0.89 1.02)" class="bd">1.1</text>
<text x="0" y="0" font-size="71" text-anchor="end" transform="translate(251.5 4607.8) scale(0.89 1.02)" class="bd">1</text>
<text x="0" y="0" font-size="90" text-anchor="start" transform="translate(875.8 4747.8) scale(0.89 1)" ><tspan x="0" y="0">position</tspan><tspan class="cjk" x="308.4" y="-2.7" font-size="78">（</tspan><tspan x="400.2" y="0">nm</tspan><tspan class="cjk" x="530.9" y="-2.7" font-size="78">）</tspan></text>
<text x="0" y="0" font-size="90" text-anchor="middle" transform="translate(135 3962.5) rotate(-90) scale(0.9 0.97)" letter-spacing="4.6">refractive index</text>
<text transform="translate(1000 4865.2) scale(0.93 1)" font-size="86.4" class="cap"><tspan class="par" x="16.44">(</tspan><tspan x="47.48" font-size="90">d</tspan><tspan class="par" x="100.96">)</tspan></text>
</g>
</svg>
</body>
</html>
